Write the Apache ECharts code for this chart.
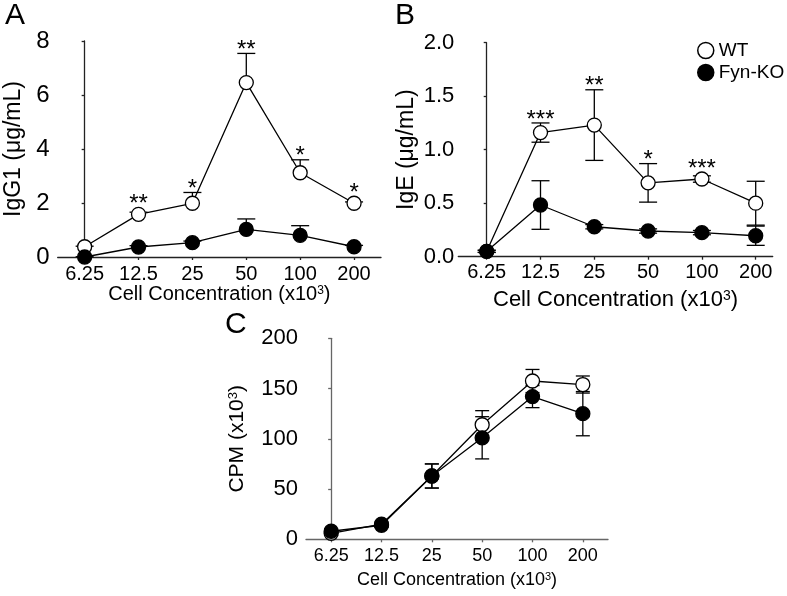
<!DOCTYPE html>
<html><head><meta charset="utf-8">
<script src="https://cdn.jsdelivr.net/npm/echarts@6/dist/echarts.min.js"></script>
<style>html,body{margin:0;padding:0;background:#fff}#c{width:787px;height:596px}</style>
</head><body><div id="c"></div>
<script>
const categories = ['6.25','12.5','25','50','100','200'];
// Panel A: IgG1 (ug/mL)
const igg1WT = [0.38,1.58,1.99,6.46,3.12,1.99];
const igg1WTErr = [0.02,0.08,0.40,1.08,0.48,0.05];
const igg1KO = [0.0,0.37,0.53,1.02,0.80,0.38];
const igg1KOErr = [0.01,0.05,0.06,0.39,0.36,0.05];
const igg1Sig = ['','**','*','**','*','*'];
// Panel B: IgE (ug/mL)
const igeWT = [0.05,1.16,1.23,0.69,0.726,0.50];
const igeWTErr = [0.01,0.09,0.33,0.18,0.03,0.205];
const igeKO = [0.05,0.483,0.28,0.24,0.225,0.196];
const igeKOErr = [0.01,0.227,0.02,0.02,0.02,0.09];
const igeSig = ['','***','**','*','***',''];
// Panel C: CPM (x10^3)
const cpmWT = [6,15,63,114,157.5,154];
const cpmWTErr = [2,2,12,14,11.5,8.5];
const cpmKO = [8,14,63,101,142,125];
const cpmKOErr = [2,2,12,21,11,22];

const FONT = "'Liberation Sans', Arial, Helvetica, sans-serif";
const idx = categories.map((c,i)=>i);
const X_NAME = 'Cell Concentration (x10{sup|3})';

function supRich(fs){
  return {sup:{fontSize:Math.round(fs*0.62), verticalAlign:'top', color:'#000', fontFamily:FONT, padding:[0,0,Math.round(fs*0.3),0]}};
}
function xAxisDef(g, min, max, fs, margin, color, nfs, ngap){
  return {type:'value', gridIndex:g, min:min, max:max,
    axisLine:{show:true, onZero:false, lineStyle:{color:color, width:1.3}},
    axisTick:{show:true, customValues:idx, length:3, lineStyle:{color:color, width:1.3}},
    axisLabel:{customValues:idx, formatter:v=>categories[Math.round(v)], fontSize:fs, color:'#000', fontFamily:FONT, margin:margin},
    splitLine:{show:false},
    name:X_NAME, nameLocation:'middle', nameGap:ngap,
    nameTextStyle:{fontSize:nfs, color:'#000', fontFamily:FONT, rich:supRich(nfs)}};
}
function yAxisDef(g, max, interval, fs, margin, color, name, nfs, ngap, fmt){
  return {type:'value', gridIndex:g, min:0, max:max, interval:interval,
    axisLine:{show:true, lineStyle:{color:color, width:1.3}},
    axisTick:{show:true, length:3, lineStyle:{color:color, width:1.3}},
    axisLabel:{fontSize:fs, color:'#000', fontFamily:FONT, margin:margin, formatter:fmt},
    splitLine:{show:false},
    name:name, nameLocation:'middle', nameGap:ngap, nameRotate:90,
    nameTextStyle:{fontSize:nfs, color:'#000', fontFamily:FONT, rich:supRich(nfs)}};
}
function lineSeries(g, name, vals, filled, z){
  return {type:'line', name:name, xAxisIndex:g, yAxisIndex:g, z:z,
    data: vals.map((v,i)=>[i,v]), symbol:'circle', symbolSize:14,
    lineStyle:{color:'#000', width:1.3},
    itemStyle:{color: filled?'#000':'#fff', borderColor:'#000', borderWidth:1.3},
    emphasis:{disabled:true}, animation:false};
}
function errSeries(g, vals, errs, twoSided, capHalf, z){
  return {type:'custom', xAxisIndex:g, yAxisIndex:g, z:z, silent:true, animation:false,
    data: vals.map((v,i)=>[i, v-errs[i], v+errs[i], v]),
    encode:{x:0, y:[1,2]},
    renderItem:(params, api)=>{
      const i = api.value(0);
      const x = api.coord([i, api.value(3)])[0];
      const mid = api.coord([i, api.value(3)])[1];
      const hi = api.coord([i, api.value(2)])[1];
      const lo = api.coord([i, api.value(1)])[1];
      const st = {stroke:'#000', lineWidth:1.3};
      const ch = [
        {type:'line', shape:{x1:x, y1:hi, x2:x, y2: twoSided?lo:mid}, style:st},
        {type:'line', shape:{x1:x-capHalf, y1:hi, x2:x+capHalf, y2:hi}, style:st}
      ];
      if (twoSided) ch.push({type:'line', shape:{x1:x-capHalf, y1:lo, x2:x+capHalf, y2:lo}, style:st});
      return {type:'group', children:ch};
    }};
}
function sigSeries(g, vals, errs, sig){
  return {type:'custom', xAxisIndex:g, yAxisIndex:g, z:10, silent:true, animation:false,
    data: vals.map((v,i)=>[i, v, v+errs[i]]),
    encode:{x:0, y:2},
    renderItem:(params, api)=>{
      const i = api.value(0);
      const s = sig[i];
      if (!s) return null;
      const p = api.coord([i, api.value(1)]);
      const c = api.coord([i, api.value(2)]);
      const y = Math.min(p[1]-7, c[1]) - 3;
      return {type:'text', style:{text:s, x:p[0], y:y, align:'center', verticalAlign:'middle',
        textAlign:'center', textVerticalAlign:'middle', fontSize:24, fontFamily:FONT, fill:'#000'}};
    }};
}

const chart = echarts.init(document.getElementById('c'), null, {renderer:'canvas'});
chart.setOption({
  backgroundColor:'#fff',
  animation:false,
  grid:[
    {left:57.7, top:41, width:323.3, height:216},
    {left:458.3, top:42.7, width:314.4, height:214},
    {left:306, top:338.3, width:302, height:201}
  ],
  xAxis:[
    xAxisDef(0, -0.5, 5.5, 20, 7, '#222', 20, 27),
    xAxisDef(1, -0.528, 5.316, 20, 6, '#222', 22, 32),
    xAxisDef(2, -0.5, 5.5, 18, 8, '#666', 18, 32)
  ],
  yAxis:[
    yAxisDef(0, 8, 2, 24, 8, '#222', 'IgG1 (μg/mL)', 23, 33),
    yAxisDef(1, 2, 0.5, 22, 4, '#222', 'IgE (μg/mL)', 23, 40, v=>v.toFixed(1)),
    yAxisDef(2, 200, 50, 22, 8, '#666', 'CPM (x10{sup|3})', 21, 58)
  ],
  legend:{orient:'vertical', left:697, top:41, itemWidth:16, itemHeight:16, itemGap:3, padding:0,
    icon:'circle', textStyle:{fontSize:19, color:'#000', fontFamily:FONT},
    selectedMode:false,
    data:[
      {name:'WT', itemStyle:{color:'#fff', borderColor:'#000', borderWidth:1.5}},
      {name:'Fyn-KO', itemStyle:{color:'#000', borderColor:'#000', borderWidth:1.5}}
    ]},
  graphic:[
    {type:'text', left:5, top:1, style:{text:'A', fontSize:30, fontFamily:FONT, fill:'#000'}},
    {type:'text', left:395, top:1, style:{text:'B', fontSize:30, fontFamily:FONT, fill:'#000'}},
    {type:'text', left:225, top:310, style:{text:'C', fontSize:30, fontFamily:FONT, fill:'#000'}}
  ],
  series:[
    errSeries(0, igg1WT, igg1WTErr, false, 9, 1),
    errSeries(0, igg1KO, igg1KOErr, false, 9, 1),
    lineSeries(0, 'WT', igg1WT, false, 3),
    lineSeries(0, 'Fyn-KO', igg1KO, true, 4),
    sigSeries(0, igg1WT, igg1WTErr, igg1Sig),

    errSeries(1, igeWT, igeWTErr, true, 9, 1),
    errSeries(1, igeKO, igeKOErr, true, 9, 1),
    lineSeries(1, 'WT', igeWT, false, 3),
    lineSeries(1, 'Fyn-KO', igeKO, true, 4),
    sigSeries(1, igeWT, igeWTErr, igeSig),

    errSeries(2, cpmWT, cpmWTErr, true, 7, 1),
    errSeries(2, cpmKO, cpmKOErr, true, 7, 1),
    lineSeries(2, 'WT', cpmWT, false, 3),
    lineSeries(2, 'Fyn-KO', cpmKO, true, 4)
  ]
});
</script>
</body></html>
